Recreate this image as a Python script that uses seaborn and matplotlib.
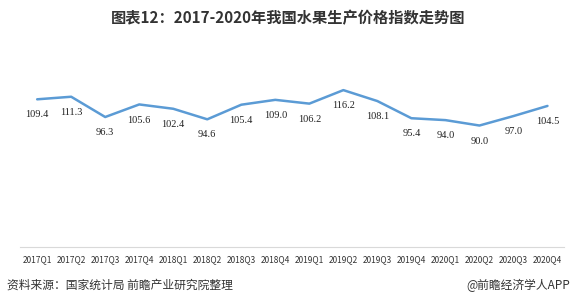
import matplotlib
matplotlib.use("Agg")
import matplotlib.pyplot as plt
import seaborn as sns
import pandas as pd

quarters = ["2017Q1", "2017Q2", "2017Q3", "2017Q4", "2018Q1", "2018Q2", "2018Q3", "2018Q4",
            "2019Q1", "2019Q2", "2019Q3", "2019Q4", "2020Q1", "2020Q2", "2020Q3", "2020Q4"]
values = [109.4, 111.3, 96.3, 105.6, 102.4, 94.6, 105.4, 109.0,
          106.2, 116.2, 108.1, 95.4, 94.0, 90.0, 97.0, 104.5]

sns.set_theme(style="white")
plt.rcParams['font.family'] = ['Noto Sans CJK SC', 'DejaVu Sans']

df = pd.DataFrame({"quarter": quarters, "value": values})

fig = plt.figure(figsize=(5.76, 3.07), dpi=100)
ax = fig.add_axes([0.035, 0.195, 0.945, 0.625])
sns.lineplot(data=df, x="quarter", y="value", ax=ax, color="#5B9BD5", linewidth=1.8, sort=False)
ax.set_xlim(-0.5, 15.5)
ax.set_ylim(0, 142)
for i, v in enumerate(values):
    ax.annotate(f"{v:.1f}", (i, v), xytext=(0, -8), textcoords="offset points",
                ha="center", va="top", fontsize=7.5, color="#222222", family=['Liberation Serif', 'DejaVu Serif'])
ax.set_xlabel("")
ax.set_ylabel("")
ax.set_yticks([])
ax.tick_params(axis="x", labelsize=6, length=0, pad=6, labelcolor="#333333")
for s in ["top", "left", "right"]:
    ax.spines[s].set_visible(False)
ax.spines["bottom"].set_color("#d9d9d9")
ax.spines["bottom"].set_linewidth(0.8)

fig.text(0.5, 0.94, "图表12：2017-2020年我国水果生产价格指数走势图", ha="center", va="center",
         fontsize=11, fontweight="bold", color="#333333")
fig.text(0.012, 0.07, "资料来源：国家统计局 前瞻产业研究院整理", ha="left", va="center", fontsize=8.5, color="#333333")
fig.text(0.99, 0.07, "@前瞻经济学人APP", ha="right", va="center", fontsize=8.5, color="#333333")

fig.savefig("out.png", dpi=100)
